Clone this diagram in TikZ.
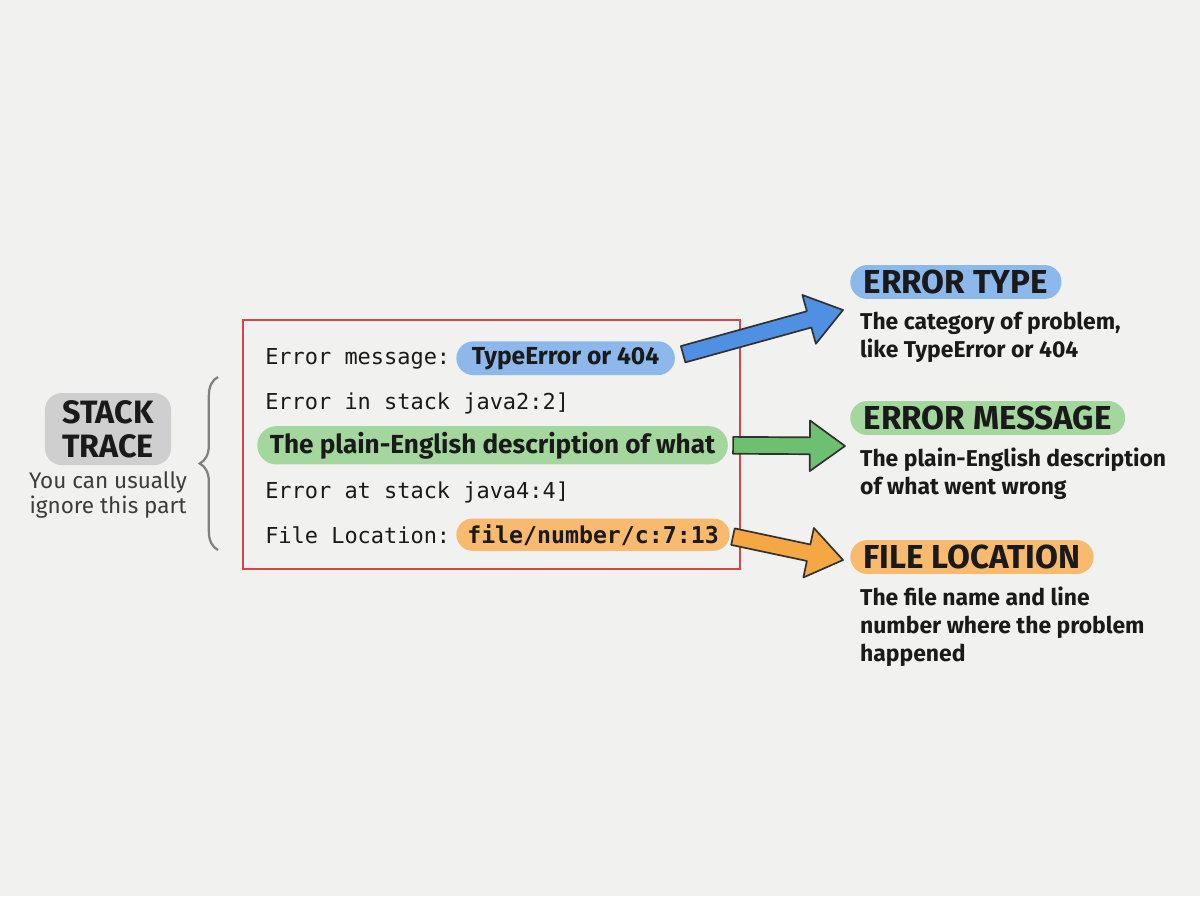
\documentclass[tikz,border=0pt]{standalone}
\usepackage{fontspec}
\setmainfont{Fira Sans}
\setmonofont{DejaVu Sans Mono}
\usetikzlibrary{calc}
\usetikzlibrary{positioning}
\usetikzlibrary{shapes.misc}
\usetikzlibrary{decorations.pathreplacing}

\definecolor{paper}{HTML}{F1F1EF}
\definecolor{ink}{HTML}{1A1A1A}
\definecolor{boxred}{HTML}{D04848}
\definecolor{pillblue}{HTML}{8DB8EC}
\definecolor{pillgreen}{HTML}{A3D79E}
\definecolor{pillorange}{HTML}{F7BA6E}
\definecolor{pillgray}{HTML}{CFCFCF}
\definecolor{arrowblue}{HTML}{4F90E2}
\definecolor{arrowgreen}{HTML}{6CC070}
\definecolor{arroworange}{HTML}{F5A743}

% fat block arrow: tail, tip, colour
\newcommand{\fatarrow}[3]{%
  \coordinate (neck) at ($(#2)!25pt!(#1)$);
  \draw[arrowline, fill=#3] ($(#1)!6pt!90:(#2)$) -- ($(neck)!6pt!90:(#2)$)
    -- ($(neck)!18pt!90:(#2)$) -- (#2) -- ($(neck)!18pt!-90:(#2)$)
    -- ($(neck)!6pt!-90:(#2)$) -- ($(#1)!6pt!-90:(#2)$) -- cycle;
}

\begin{document}
\begin{tikzpicture}[
      x=0.025cm, y=-0.025cm,
      codeline/.style ={anchor=base west, inner sep=0pt, text=ink,
                        font=\ttfamily\fontsize{15.6}{18}\selectfont},
      codepill/.style ={rounded rectangle, fill=#1, inner xsep=8pt, inner ysep=4pt,
                        anchor=base west, text=ink, font=\bfseries\fontsize{17.5}{18}\selectfont},
      headpill/.style ={rounded rectangle, fill=#1, inner xsep=6pt, inner ysep=3.5pt,
                        anchor=west, text=ink, font=\bfseries\fontsize{23.6}{24}\selectfont},
      desc/.style     ={anchor=north west, inner sep=0pt, align=left, text=ink,
                        font=\bfseries\fontsize{16.3}{19.8}\selectfont},
      arrowline/.style={draw=ink!90, line width=1.2pt, line join=round}
    ]
    \fill[paper] (0,0) rectangle (1200,896);

    % left label
    \node [rounded corners=12pt, fill=pillgray, align=center, text=ink,
           minimum width=3.15cm, minimum height=1.8cm,
           font=\bfseries\fontsize{23}{24}\selectfont] (stack) at (108,429) {STACK\\TRACE};
    \node [align=center, text=ink!85, inner sep=0pt,
           font=\fontsize{16}{17.8}\selectfont] (ignore) [below=4pt of stack] {You can usually\\ignore this part};

    % the code
    \node [draw=boxred, line width=1.2pt, minimum width=12.43cm, minimum height=6.23cm] (codebox) at (491.5,444.5) {};
    \node [codeline] (msglabel) at (265,364) {Error message:};
    \node [codepill=pillblue] (typepill) at ([xshift=4pt]msglabel.base east) {TypeError or 404};
    \node [codeline] (line2) at (265,409) {Error in stack java2:2]};
    \node [codepill=pillgreen, inner xsep=5pt, font=\bfseries\fontsize{18.6}{18}\selectfont] (descpill) at (257,453) {The plain-English description of what};
    \node [codeline] (line4) at (265,498) {Error at stack java4:4]};
    \node [codeline] (loclabel) at (265,543) {File Location:};
    \node [codepill=pillorange, inner xsep=5pt, font=\ttfamily\bfseries\fontsize{16.5}{18}\selectfont] (locpill) at ([xshift=4pt]loclabel.base east) {file/number/c:7:13};

    \draw [decorate, decoration={brace, amplitude=13pt}, draw=gray, line width=1.6pt]
      (218,550) -- (218,377);

    % right side
    \node [headpill=pillblue] (typehead) at (850,282) {ERROR TYPE};
    \node [desc] (typedesc) at ([xshift=7pt,yshift=-9pt]typehead.west |- typehead.south) {The category of problem,\\like TypeError or 404};
    \node [headpill=pillgreen] (msghead) at (850,418) {ERROR MESSAGE};
    \node [desc] (msgdesc) at ([xshift=7pt,yshift=-9pt]msghead.west |- msghead.south) {The plain-English description\\of what went wrong};
    \node [headpill=pillorange] (lochead) at (850,557) {FILE LOCATION};
    \node [desc] (locdesc) at ([xshift=7pt,yshift=-9pt]lochead.west |- lochead.south) {The file name and line\\number where the problem\\happened};

    % arrows
    \coordinate (typetail) at ($(typepill.east)+(8,-4)$);
    \coordinate (typetip)  at ($(typehead.west)+(-7,28)$);
    \coordinate (desctail) at ($(descpill.east)+(5,0)$);
    \coordinate (desctip)  at ($(msghead.west)+(-5,28)$);
    \coordinate (loctail)  at ($(locpill.east)+(3,2)$);
    \coordinate (loctip)   at ($(lochead.west)+(-7,3)$);
    \fatarrow{typetail}{typetip}{arrowblue}
    \fatarrow{desctail}{desctip}{arrowgreen}
    \fatarrow{loctail}{loctip}{arroworange}
  \end{tikzpicture}
\end{document}
